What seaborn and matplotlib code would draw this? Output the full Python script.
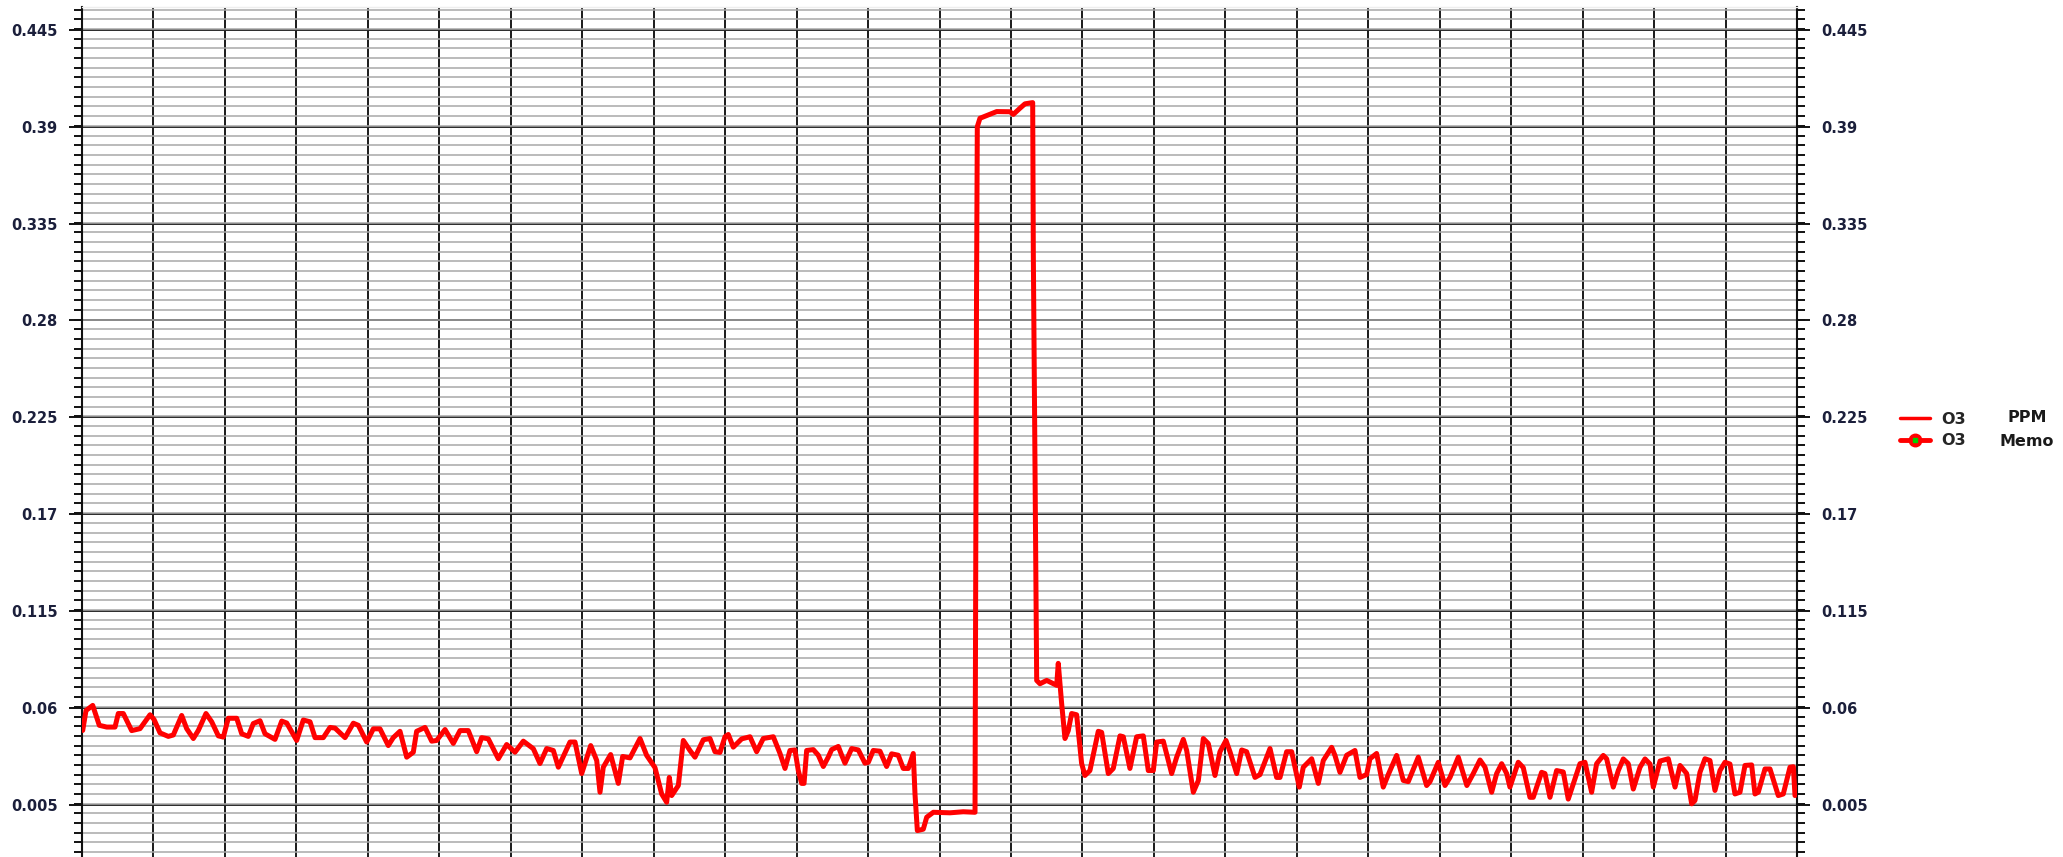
import matplotlib

matplotlib.use("Agg")
import matplotlib.pyplot as plt
import numpy as np
import pandas as pd
import seaborn as sns
from matplotlib.legend_handler import HandlerTuple
from matplotlib.lines import Line2D
from matplotlib.ticker import FixedLocator, MultipleLocator

# O3 readings (ppm) against hour of the recording
hours = [
    0.01, 0.056, 0.15, 0.242, 0.346, 0.462, 0.508, 0.578, 0.695, 0.812,
    0.952, 1.008, 1.092, 1.208, 1.278, 1.395, 1.465, 1.558, 1.628, 1.735,
    1.815, 1.908, 1.978, 2.047, 2.165, 2.235, 2.327, 2.397, 2.491, 2.561,
    2.701, 2.795, 2.865, 3.004, 3.097, 3.191, 3.261, 3.377, 3.471, 3.541,
    3.681, 3.797, 3.867, 3.984, 4.077, 4.170, 4.286, 4.356, 4.450,
    4.544, 4.636, 4.683, 4.800, 4.894, 4.963, 5.080, 5.196, 5.290, 5.406,
    5.523, 5.593, 5.686, 5.826, 5.943, 6.059, 6.176, 6.316, 6.409, 6.503,
    6.596, 6.666, 6.829, 6.899, 6.993, 7.119, 7.203, 7.249, 7.295, 7.398,
    7.505, 7.566, 7.669, 7.809, 7.902, 8.018, 8.112, 8.182, 8.219, 8.252,
    8.345, 8.415, 8.508, 8.578, 8.695, 8.788, 8.858, 8.928, 8.998, 9.044,
    9.114, 9.232, 9.348, 9.441, 9.534, 9.674, 9.768, 9.838,
    9.907, 9.977, 10.024, 10.071, 10.104, 10.141, 10.234, 10.304, 10.374, 10.444,
    10.491, 10.584, 10.631, 10.677, 10.771, 10.864, 10.957, 11.004, 11.073, 11.167,
    11.260, 11.330, 11.423, 11.493, 11.563, 11.633, 11.657, 11.690, 11.773, 11.821,
    11.914, 12.147, 12.333, 12.497, 12.504, 12.518, 12.529, 12.566, 12.683, 12.800,
    12.986, 13.033, 13.126, 13.196, 13.304, 13.313, 13.360,
    13.406, 13.500, 13.640, 13.662, 13.709, 13.756, 13.802, 13.849, 13.919, 13.989,
    14.035, 14.105, 14.222, 14.269, 14.362, 14.432, 14.526, 14.572, 14.665, 14.759, 14.852,
    14.922, 14.992, 15.039, 15.132, 15.249, 15.319, 15.412, 15.459, 15.552, 15.622,
    15.692, 15.762, 15.855, 15.925, 16.009, 16.065, 16.159, 16.229, 16.298, 16.415,
    16.485, 16.625, 16.718, 16.765, 16.858, 16.928, 17.035, 17.091, 17.208, 17.301,
    17.371, 17.488, 17.534, 17.604, 17.698, 17.814, 17.884, 17.977, 18.024, 18.117,
    18.210, 18.280, 18.397, 18.490, 18.560, 18.700, 18.817, 18.864, 18.980, 19.074,
    19.144, 19.260, 19.380, 19.470, 19.564, 19.634, 19.727, 19.797, 19.867, 19.937,
    19.983, 20.099, 20.169, 20.263, 20.309, 20.426, 20.473, 20.543, 20.636, 20.729,
    20.799, 20.869, 20.963, 21.033, 21.126, 21.196, 21.289, 21.336, 21.429, 21.499,
    21.569, 21.639, 21.709, 21.803, 21.873, 21.943, 21.989, 22.083, 22.199, 22.293,
    22.363, 22.456, 22.526, 22.572, 22.642, 22.712, 22.782, 22.852, 22.922, 22.992,
    23.062, 23.132, 23.202, 23.272, 23.365, 23.412, 23.458, 23.552, 23.622, 23.738,
    23.808, 23.902, 23.949, 23.972,
]
o3_ppm = [
    0.0471, 0.0584, 0.0613, 0.050, 0.049, 0.049, 0.0567, 0.0567, 0.047, 0.0481,
    0.056, 0.0533, 0.0457, 0.0437, 0.0445, 0.0556, 0.0481, 0.0425, 0.0471, 0.0567,
    0.052, 0.044, 0.0433, 0.054, 0.054, 0.0452, 0.0437, 0.051, 0.0526, 0.0452,
    0.042, 0.0524, 0.0513, 0.0414, 0.053, 0.052, 0.043, 0.043, 0.0488, 0.0484,
    0.043, 0.0512, 0.050, 0.0405, 0.048, 0.048, 0.0385, 0.043, 0.0466,
    0.0319, 0.0347, 0.0466, 0.0488, 0.041, 0.0414, 0.0476, 0.0397, 0.047, 0.047,
    0.035, 0.043, 0.0423, 0.031, 0.0391, 0.0347, 0.041, 0.0367, 0.0283, 0.0368,
    0.0357, 0.0262, 0.0405, 0.0405, 0.0226, 0.0385, 0.030, 0.012, 0.0262, 0.0334,
    0.017, 0.0323, 0.0315, 0.0425, 0.0329, 0.026, 0.011, 0.0063, 0.0204, 0.0101,
    0.0158, 0.0414, 0.0357, 0.0319, 0.0418, 0.0425, 0.035, 0.0346, 0.0435, 0.0448,
    0.0376, 0.0423, 0.0435, 0.035, 0.0425, 0.0435, 0.034, 0.0255,
    0.0357, 0.036, 0.0243, 0.017, 0.017, 0.0357, 0.0362, 0.033, 0.0266, 0.032,
    0.0362, 0.038, 0.033, 0.0285, 0.0368, 0.036, 0.0285, 0.029, 0.0357, 0.0353,
    0.0266, 0.0338, 0.033, 0.0255, 0.0255, 0.034, 0.011, -0.0098, -0.009, -0.0022,
    0.0006, 0.0003, 0.0009, 0.0006, 0.0982, 0.2934, 0.390, 0.3948, 0.3967, 0.3986,
    0.3985, 0.397, 0.4005, 0.403, 0.4037, 0.318, 0.0755,
    0.0736, 0.0755, 0.0727, 0.0852, 0.0625, 0.0425, 0.047, 0.0567, 0.056, 0.0283,
    0.0215, 0.0243, 0.0466, 0.046, 0.0226, 0.0255, 0.044, 0.0435, 0.0255, 0.0435, 0.044,
    0.0243, 0.0243, 0.0405, 0.041, 0.0226, 0.0319, 0.042, 0.0357, 0.012, 0.0186,
    0.0425, 0.0396, 0.0215, 0.035, 0.0414, 0.035, 0.0226, 0.036, 0.035, 0.0204,
    0.022, 0.0368, 0.0204, 0.0204, 0.035, 0.035, 0.0149, 0.0262, 0.031, 0.017,
    0.030, 0.0375, 0.0329, 0.0233, 0.033, 0.0357, 0.0204, 0.022, 0.031, 0.034,
    0.0149, 0.022, 0.0329, 0.0187, 0.018, 0.0319, 0.0158, 0.018, 0.029, 0.0158,
    0.0204, 0.0319, 0.0158, 0.0226, 0.0303, 0.0262, 0.012, 0.0226, 0.0282, 0.0226,
    0.0149, 0.029, 0.026, 0.0091, 0.0091, 0.0233, 0.0226, 0.0091, 0.0243, 0.0235,
    0.0081, 0.0166, 0.0282, 0.029, 0.012, 0.0282, 0.0329, 0.031, 0.0149, 0.0243,
    0.0309, 0.0282, 0.0138, 0.0262, 0.0309, 0.028, 0.0149, 0.0297, 0.031, 0.0149,
    0.0272, 0.0226, 0.0054, 0.0073, 0.0233, 0.031, 0.030, 0.013, 0.0243, 0.029,
    0.028, 0.011, 0.012, 0.0272, 0.0275, 0.011, 0.012, 0.0252, 0.0252, 0.0101,
    0.011, 0.0262, 0.0265, 0.0101,
]

y_ticks = [0.005, 0.06, 0.115, 0.17, 0.225, 0.28, 0.335, 0.39, 0.445]
y_tick_labels = ["0.005", "0.06", "0.115", "0.17", "0.225", "0.28", "0.335", "0.39", "0.445"]
y_minor_step = 0.0055
legend_series = ["O3", "O3"]
legend_units = ["PPM", "Memo"]

RED = "#ff0000"
LABEL_COLOR = "#1b1f3b"

sns.set_style("white")
plt.rcParams["font.family"] = ["DejaVu Sans"]

df = pd.DataFrame({"hour": hours, "o3": o3_ppm})

W, H = 2063, 857
fig = plt.figure(figsize=(W / 100, H / 100), dpi=100)
ax = fig.add_axes([82 / W, 0.0, (1797 - 82) / W, 1 - 7 / H])

sns.lineplot(data=df, x="hour", y="o3", color=RED, linewidth=3.6,
             estimator=None, sort=False, ax=ax, zorder=5)

ax.set_xlim(0, 24)
ax.set_ylim(-0.0248, 0.458)
ax.xaxis.set_major_locator(MultipleLocator(1))
ax.yaxis.set_major_locator(FixedLocator(y_ticks))
minor = np.round(np.arange(-0.0275, 0.46, y_minor_step), 4)
ax.yaxis.set_minor_locator(FixedLocator(minor))
ax.set_yticklabels(y_tick_labels)

ax.set_axisbelow(True)
ax.grid(which="minor", axis="y", color="#a8a8a8", linewidth=1.1)
ax.grid(which="major", axis="y", color="#2a2a2a", linewidth=1.4)
ax.grid(which="major", axis="x", color="#1a1a1a", linewidth=1.4)

ax.tick_params(axis="x", which="both", length=0, labelbottom=False)
ax.tick_params(axis="y", which="major", direction="out", length=9.5, width=1.4,
               left=True, right=True, labelleft=True, labelright=True,
               pad=8, labelsize=10.5, labelcolor=LABEL_COLOR, color="#111111")
ax.tick_params(axis="y", which="minor", direction="out", length=5.5, width=1.4,
               left=True, right=True, color="#111111")
for lab in ax.get_yticklabels():
    lab.set_fontweight("bold")

ax.set_xlabel("")
ax.set_ylabel("")
for side in ["left", "right"]:
    ax.spines[side].set_color("#111111")
    ax.spines[side].set_linewidth(1.5)
ax.spines["top"].set_color("#eeeeee")
ax.spines["top"].set_linewidth(1.0)
ax.spines["bottom"].set_visible(False)

h_ppm = Line2D([], [], color=RED, linewidth=2.5)
h_memo_line = Line2D([], [], color=RED, linewidth=3.5, marker="o", markersize=9,
                     markerfacecolor=RED, markeredgecolor=RED)
h_memo_dot = Line2D([], [], linestyle="none", marker="s", markersize=2.5,
                    markerfacecolor="#00d000", markeredgecolor="#00d000")
fig.legend([h_ppm, (h_memo_line, h_memo_dot)], legend_series,
           handler_map={tuple: HandlerTuple(ndivide=1)},
           loc="center left", bbox_to_anchor=(1900 / W, 1 - 430 / H),
           frameon=False, borderpad=0, borderaxespad=0, handlelength=1.9,
           handletextpad=0.7, labelspacing=0.4,
           prop={"weight": "bold", "size": 11.5})
for unit, ypix in zip(legend_units, [418, 442]):
    fig.text(2027 / W, 1 - ypix / H, unit, ha="center", va="center",
             fontsize=11.5, fontweight="bold", color="#1a1a1a")

fig.savefig("out.png", dpi=100)
plt.close(fig)
